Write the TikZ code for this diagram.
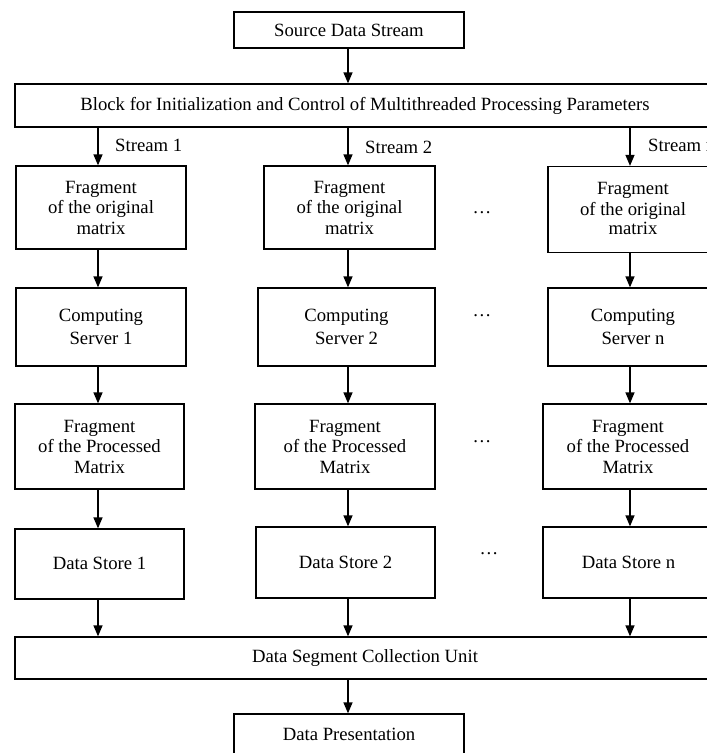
\documentclass[tikz,border=0pt]{standalone}
\usepackage{fontspec}
\setmainfont{Liberation Serif}
\usetikzlibrary{arrows.meta}
\tikzset{
  box/.style={draw, line width=1.3pt, rectangle, align=center, inner sep=0pt,
    font=\fontsize{18.7}{20.5}\selectfont},
  arr/.style={line width=1.3pt, -{Triangle[length=11pt,width=9pt]}},
  lbl/.style={font=\fontsize{18.7}{20.5}\selectfont, inner sep=0pt},
}
\begin{document}
\begin{tikzpicture}[x=1pt,y=-1pt]
\useasboundingbox (0,0) rectangle (707,753);
\fill[white] (0,0) rectangle (707,753);
\clip (0,0) rectangle (707,753);

% top
\node[box, minimum width=230, minimum height=36] (src) at (349,30) {Source Data Stream};
\node[box, minimum width=700, minimum height=43] (blk) at (365,105.5) {Block for Initialization and Control of Multithreaded Processing Parameters};

% arrow x positions
\coordinate (a1) at (98,0);
\coordinate (a2) at (348,0);
\coordinate (a3) at (630,0);

% column 1
\node[box, minimum width=170, minimum height=83] (f1) at (101,207.5) {Fragment\\of the original\\matrix};
\node[box, minimum width=170, minimum height=78] (c1) at (101,327) {Computing\\[2.5pt]Server 1};
\node[box, minimum width=169, minimum height=85] (p1) at (99.5,446.5) {Fragment\\of the Processed\\Matrix};
\node[box, minimum width=169, minimum height=70] (d1) at (99.5,564) {\raisebox{2pt}{Data Store 1}};

% column 2
\node[box, minimum width=171, minimum height=83] (f2) at (349.5,207.5) {Fragment\\of the original\\matrix};
\node[box, minimum width=177, minimum height=78] (c2) at (346.5,327) {Computing\\[2.5pt]Server 2};
\node[box, minimum width=180, minimum height=85] (p2) at (345,446.5) {Fragment\\of the Processed\\Matrix};
\node[box, minimum width=179, minimum height=71] (d2) at (345.5,562.5) {Data Store 2};

% column 3
\node[box, minimum width=170, minimum height=86] (f3) at (633,209.5) {\raisebox{2pt}{\shortstack{Fragment\\of the original\\matrix}}};
\node[box, minimum width=170, minimum height=78] (c3) at (633,327) {Computing\\[2.5pt]Server n};
\node[box, minimum width=170, minimum height=85] (p3) at (628,446.5) {Fragment\\of the Processed\\Matrix};
\node[box, minimum width=171, minimum height=71] (d3) at (628.5,562.5) {Data Store n};

% bottom
\node[box, minimum width=700, minimum height=42] (col) at (365,658) {Data Segment Collection Unit};
\node[box, minimum width=230, minimum height=46] (pres) at (349,737) {\raisebox{5.5pt}{Data Presentation}};

% dots
\node[lbl] (dt1) at (482,213) {\dots};
\node[lbl] (dt2) at (482,316) {\dots};
\node[lbl] (dt3) at (482,442) {\dots};
\node[lbl] (dt4) at (489,554) {\dots};

% stream labels
\node[lbl, anchor=west] (s1) at (115,145) {Stream 1};
\node[lbl, anchor=west] (s2) at (365,147) {Stream 2};
\node[lbl, anchor=west] (s3) at (648,145) {Stream n};

% arrows
\draw[arr] (src.south -| a2) -- (blk.north -| a2);
\foreach \c/\a in {1/a1,2/a2,3/a3}{
  \draw[arr] (blk.south -| \a) -- (f\c.north -| \a);
  \draw[arr] (f\c.south -| \a) -- (c\c.north -| \a);
  \draw[arr] (c\c.south -| \a) -- (p\c.north -| \a);
  \draw[arr] (p\c.south -| \a) -- (d\c.north -| \a);
  \draw[arr] (d\c.south -| \a) -- (col.north -| \a);
}
\draw[arr] (col.south -| a2) -- (pres.north -| a2);
\end{tikzpicture}
\end{document}
